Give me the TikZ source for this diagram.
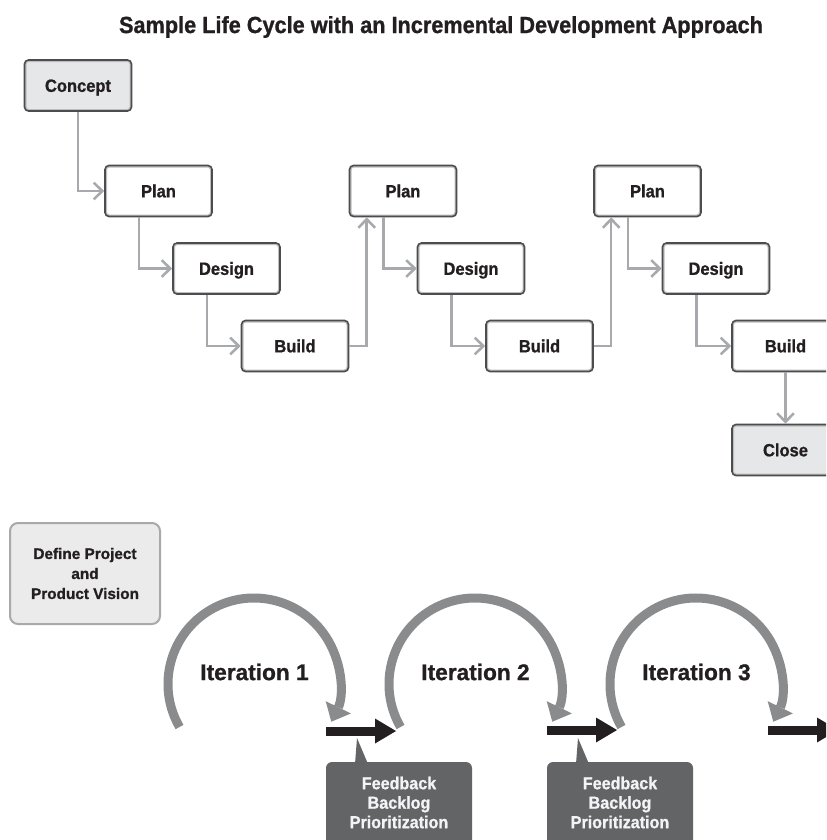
\documentclass[tikz,border=0pt]{standalone}
\usepackage{fontspec}
\setmainfont{Liberation Sans}
\newfontfamily\condfont{Liberation Sans}[FakeStretch=0.93, FakeBold=1]
\newfontfamily\heavyfont{Liberation Sans}[FakeBold=1]
\usetikzlibrary{arrows.meta}

\definecolor{ink}{HTML}{231F20}
\definecolor{boxborder}{HTML}{4D4D4F}
\definecolor{boxinner}{HTML}{BCBEC0}
\definecolor{endfill}{HTML}{E6E7E8}
\definecolor{conncolor}{HTML}{A7A9AC}
\definecolor{arcgray}{HTML}{8A8B8D}
\definecolor{visionfill}{HTML}{EBEBEC}
\definecolor{visionborder}{HTML}{A7A9AC}
\definecolor{fbfill}{HTML}{636466}
\definecolor{fbtext}{HTML}{F2F4F8}

\begin{document}
\begin{tikzpicture}[
  x=0.75pt, y=-0.75pt,
  heading/.style={font=\condfont\bfseries\fontsize{17.5}{20}\selectfont, text=ink, inner sep=0pt},
  stepbox/.style={draw=boxborder, line width=1.2pt, rounded corners=3pt, fill=white,
    minimum width=80.25pt, minimum height=38.25pt, inner sep=0pt,
    text height=9.5pt, text depth=0pt,
    font=\condfont\bfseries\fontsize{13.3}{15}\selectfont, text=ink,
    path picture={\draw[boxinner, line width=3pt]
      (path picture bounding box.south west) rectangle (path picture bounding box.north east);}},
  endbox/.style={stepbox, fill=endfill},
  flow/.style={draw=conncolor, line width=1.9pt, -{Straight Barb[length=6.5pt,width=12.5pt]}},
  visionbox/.style={draw=visionborder, line width=1.5pt, rounded corners=6pt, fill=visionfill,
    minimum width=112.5pt, minimum height=75.75pt, align=center, inner sep=0pt,
    font=\heavyfont\bfseries\fontsize{11.5}{15}\selectfont, text=ink},
  itertext/.style={font=\heavyfont\bfseries\fontsize{17}{20}\selectfont, text=ink, inner sep=0pt},
  loop/.style={draw=arcgray, line width=6.75pt,
    -{Triangle[width=21pt,length=12pt,line width=0pt]}},
  bigarrow/.style={draw=ink, line width=6.75pt,
    -{Triangle[width=18.75pt,length=15.75pt,line width=0pt]}},
  fbbox/.style={fill=fbfill, rounded corners=4.5pt, minimum width=109.5pt, minimum height=66pt, inner sep=0pt},
  fbtextstyle/.style={align=center, inner sep=0pt, text=fbtext,
    font=\condfont\bfseries\fontsize{13}{14.6}\selectfont}
]
\useasboundingbox (0,0) rectangle (826,840);
\clip (0,0) rectangle (826,840);
\fill[white] (0,0) rectangle (826,840);

% title
\node[heading] (title) at (441,27) {Sample Life Cycle with an Incremental Development Approach};

% incremental life cycle boxes
\node[endbox]  (concept) at (78,85.5)    {Concept};
\node[stepbox] (plan1)   at (158.5,191)  {Plan};
\node[stepbox] (design1) at (226.5,268.5){Design};
\node[stepbox] (build1)  at (295,346)    {Build};
\node[stepbox] (plan2)   at (403,191)    {Plan};
\node[stepbox] (design2) at (471,268.5)  {Design};
\node[stepbox] (build2)  at (539.5,346)  {Build};
\node[stepbox] (plan3)   at (647.5,191)  {Plan};
\node[stepbox] (design3) at (716,268.5)  {Design};
\node[stepbox] (build3)  at (785.5,346)  {Build};
\node[endbox]  (close)   at (785.5,450)  {Close};

% connectors
\draw[flow] (concept.south) |- (plan1.west);
\draw[flow] ([xshift=26.25pt]plan1.south west) |- (design1.west);
\draw[flow] ([xshift=26.25pt]design1.south west) |- (build1.west);
\draw[flow] (build1.east) -| ([xshift=13.5pt]plan2.south west);
\draw[flow] ([xshift=26.25pt]plan2.south west) |- (design2.west);
\draw[flow] ([xshift=26.25pt]design2.south west) |- (build2.west);
\draw[flow] (build2.east) -| ([xshift=13.5pt]plan3.south west);
\draw[flow] ([xshift=26.25pt]plan3.south west) |- (design3.west);
\draw[flow] ([xshift=26.25pt]design3.south west) |- (build3.west);
\draw[flow] (build3.south) -- (close.north);

% agile part
\node[visionbox] (vision) at (85,573.5) {Define Project\\and\\Product Vision};

\coordinate (c1) at (254,684);
\coordinate (c2) at (475,684);
\coordinate (c3) at (696,684);
\draw[loop] ([shift={(150:86)}]c1) arc[start angle=150, end angle=386, radius=86];
\draw[loop] ([shift={(150:86)}]c2) arc[start angle=150, end angle=386, radius=86];
\draw[loop] ([shift={(150:86)}]c3) arc[start angle=150, end angle=386, radius=86];

\node[itertext] (it1) at (254.5,672) {Iteration 1};
\node[itertext] (it2) at (475.5,672) {Iteration 2};
\node[itertext] (it3) at (696.5,672) {Iteration 3};

% hand-off arrows between iterations
\coordinate (a1s) at (326,731); \coordinate (a1e) at (396,731);
\coordinate (a2s) at (547,730); \coordinate (a2e) at (617,730);
\coordinate (a3s) at (768,730); \coordinate (a3e) at (838,730);
\draw[bigarrow] (a1s) -- (a1e);
\draw[bigarrow] (a2s) -- (a2e);
\draw[bigarrow] (a3s) -- (a3e);

% feedback callouts
\node[fbbox] (fb1) at (399,806) {};
\fill[fbfill] (355,764) -- (357,738) -- (368,764) -- cycle;
\node[fbtextstyle] (fb1t) at (399,802.5) {Feedback\\Backlog\\Prioritization};

\node[fbbox] (fb2) at (620,806) {};
\fill[fbfill] (576,764) -- (578,738) -- (589,764) -- cycle;
\node[fbtextstyle] (fb2t) at (620,802.5) {Feedback\\Backlog\\Prioritization};
\end{tikzpicture}
\end{document}
